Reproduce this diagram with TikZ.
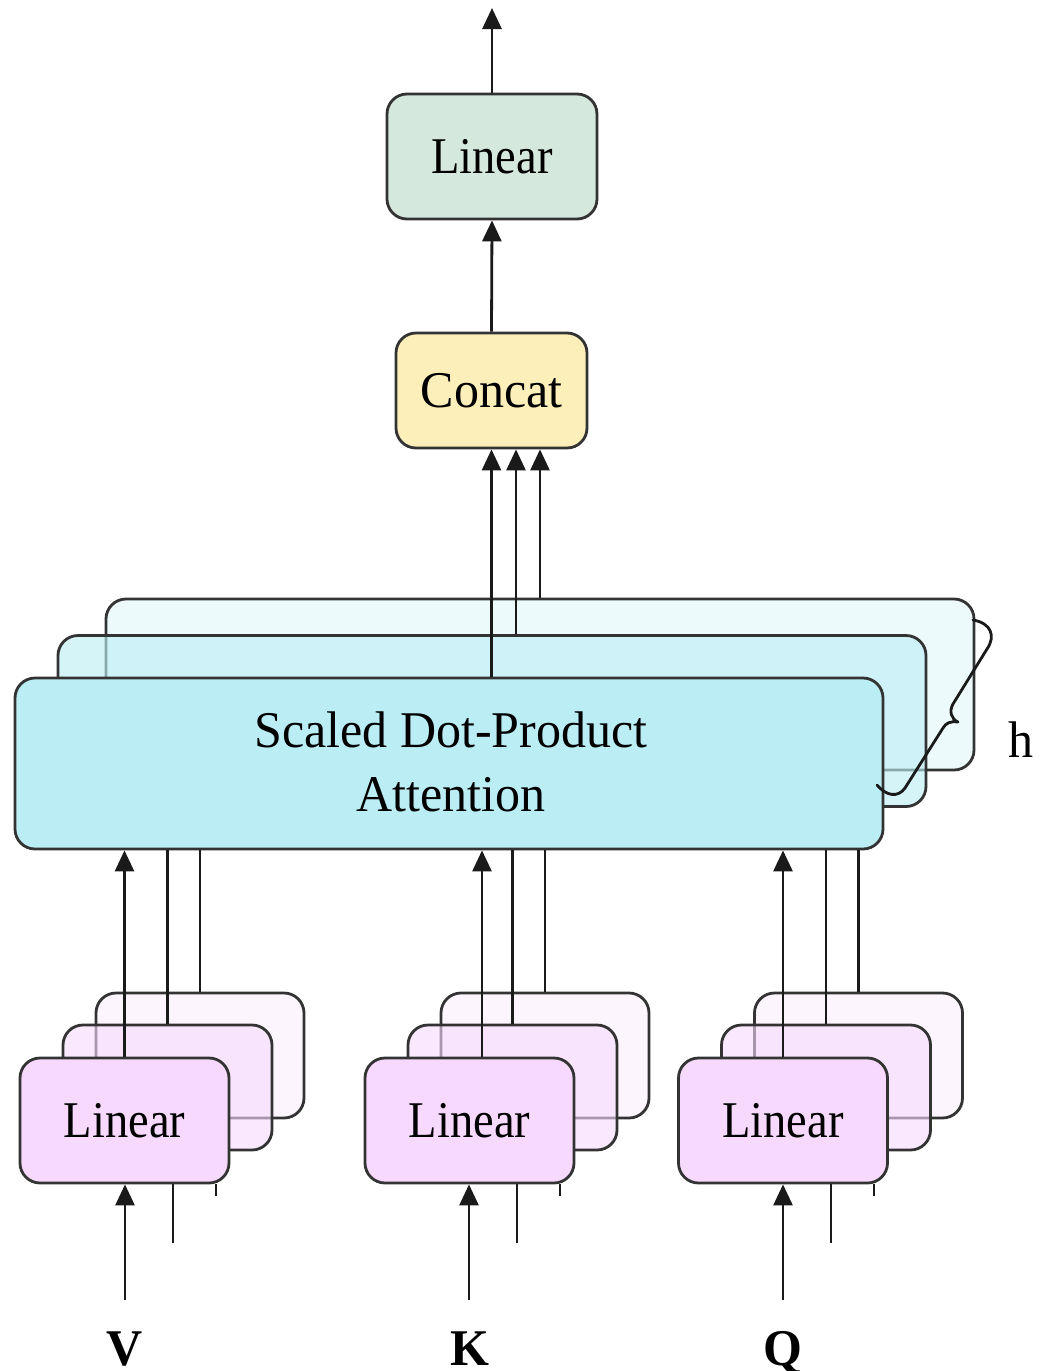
\documentclass[tikz,border=0pt]{standalone}
\usepackage{fontspec}
\usepackage{graphicx}
\setmainfont{Liberation Serif}
\usetikzlibrary{arrows.meta}
\definecolor{edgec}{HTML}{333333}
\definecolor{arrc}{HTML}{1A1A1A}
\definecolor{attc}{HTML}{BBEDF4}
\definecolor{linc}{HTML}{F6D9FD}
\definecolor{outc}{HTML}{D5E8DD}
\definecolor{catc}{HTML}{FCEFBA}
\newcommand\stxt[1]{\scalebox{1}[1.03]{#1}}
\newcommand\lintxt{\scalebox{0.93}[1.03]{Linear}}
\tikzset{
  box/.style={draw=edgec, line width=2.8pt, rounded corners=20pt, inner sep=0pt,
    font=\fontsize{50}{62.8}\selectfont},
  attbox/.style={box, fill=attc, minimum width=868pt, minimum height=171pt},
  linbox/.style={box, fill=linc, minimum width=209pt, minimum height=125pt},
  arr/.style={draw=arrc, line width=2.8pt, -{Triangle[width=19pt,length=21pt]}},
  ln/.style={draw=arrc, line width=2.8pt},
  txt/.style={inner sep=0pt, font=\fontsize{50}{62.8}\selectfont},
  lbl/.style={txt, anchor=base}
}
\begin{document}
\begin{tikzpicture}[x=1pt,y=-1pt]
\useasboundingbox (0,0) rectangle (1047,1371);

% output linear and concat
\node[box, fill=outc, minimum width=210pt, minimum height=125pt] (lo) at (492,156.5) {\lintxt};
\node[box, fill=catc, minimum width=191pt, minimum height=115pt] (cn) at (491.5,390.5) {\stxt{Concat}};
\coordinate (top) at (492,8);
\draw[arr] (lo.north) -- (top);
\draw[arr] (cn.north) -- (lo.south);

% attention stack
\node[attbox, fill opacity=0.26] (att3) at (540,684.5) {};
\node[attbox, fill opacity=0.63] (att2) at (492,721) {};
\node[attbox] (att1) at (449,763.5) {};
\node[txt] (atttxt) at (451,766.5) {\stxt{\begin{tabular}{@{}c@{}}Scaled Dot-Product\\Attention\end{tabular}}};

\coordinate (c1) at (cn.south);
\coordinate (c2) at ([xshift=24.5pt]cn.south);
\coordinate (c3) at ([xshift=48.5pt]cn.south);
\draw[arr] (c1 |- att1.north) -- (c1);
\draw[arr] (c2 |- att2.north) -- (c2);
\draw[arr] (c3 |- att3.north) -- (c3);

% brace and h
\draw[draw=arrc, line width=2.8pt, line cap=round, line join=round]
  (973,620) .. controls (991,623) and (996,636) .. (987,649)
  -- (953,704) .. controls (949,711) and (951,719) .. (958,722)
  .. controls (950,721) and (946,723) .. (943,728)
  -- (905,788) .. controls (898,798) and (886,796) .. (877,785);
\node[lbl] (h) at (1021,757) {\stxt{h}};

% linear stacks
\foreach \n/\dx in {V/0, K/345, Q/658.5}{
  \node[linbox, fill opacity=0.25, minimum width=208pt] (\n3) at (200+\dx,1055.5) {};
  \node[linbox, fill opacity=0.6] (\n2) at (167.5+\dx,1087.5) {};
  \node[linbox] (\n1) at (124.5+\dx,1120.5) {\lintxt};
}

% lines up to attention
\draw[arr] (V1.north) -- (V1.north |- att1.south);
\draw[ln] (V2.north) -- (V2.north |- att1.south);
\draw[ln] (V3.north) -- (V3.north |- att1.south);
\coordinate (k1) at ([xshift=12.5pt]K1.north);
\draw[arr] (k1) -- (k1 |- att1.south);
\draw[ln] (K2.north) -- (K2.north |- att1.south);
\draw[ln] (K3.north) -- (K3.north |- att1.south);
\draw[arr] (Q1.north) -- (Q1.north |- att1.south);
\draw[ln] (Q2.north) -- (Q2.north |- att1.south);
\draw[ln] (Q3.north) -- (Q3.north |- att1.south);

% inputs
\node[lbl] (vl) at (125,1365) {\stxt{\bfseries V}};
\node[lbl] (kl) at (470,1365) {\stxt{\bfseries K}};
\node[lbl] (ql) at (783,1365) {\stxt{\bfseries Q}};
\foreach \n/\x in {V/125, K/469, Q/783}{
  \coordinate (\n in) at (\x,1300);
  \draw[arr] (\n in) -- (\n in |- \n1.south);
  \coordinate (\n m) at (\x+48,1243);
  \draw[ln] (\n m) -- (\n m |- \n1.south);
  \coordinate (\n t) at (\x+91,1196);
  \draw[ln] (\n t) -- (\n t |- \n1.south);
}
\end{tikzpicture}
\end{document}
